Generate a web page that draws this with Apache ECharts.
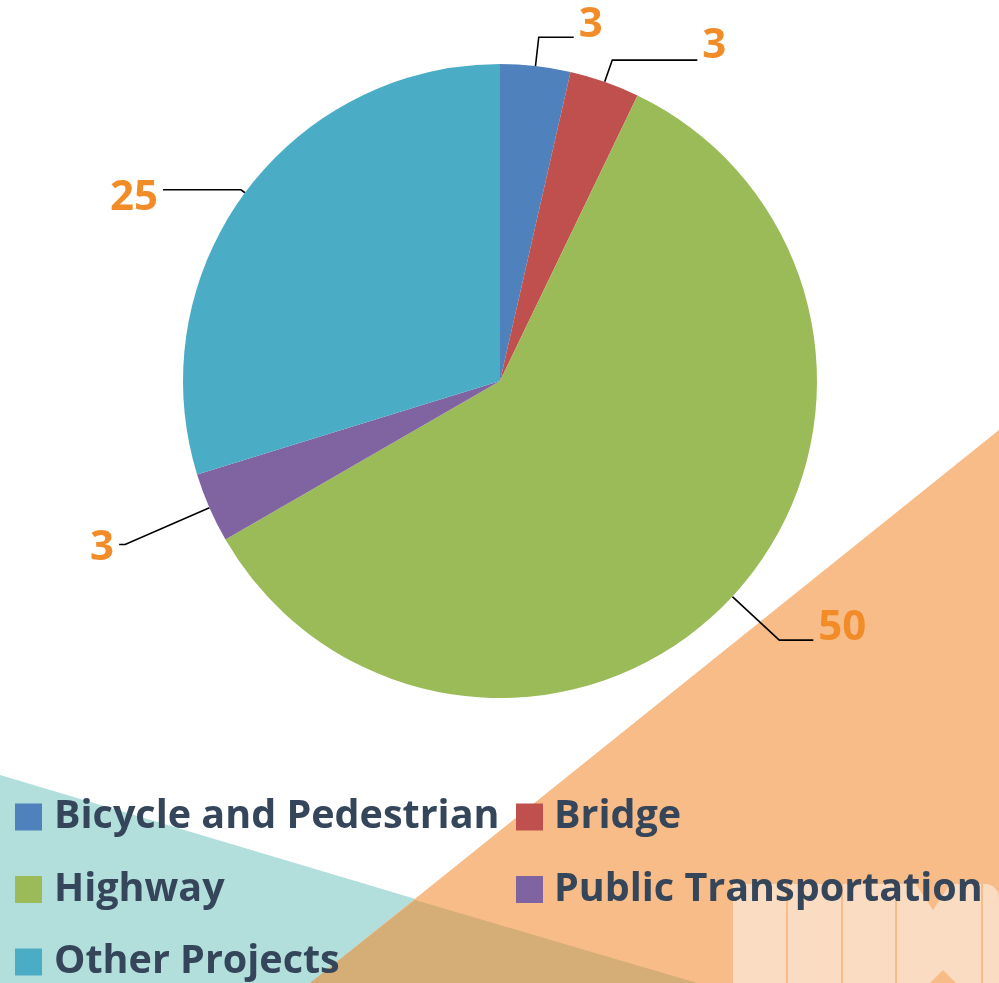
<!DOCTYPE html>
<html>
<head>
<meta charset="utf-8">
<script src="https://cdn.jsdelivr.net/npm/echarts@6/dist/echarts.min.js"></script>
<style>
html,body{margin:0;padding:0;background:#fff;}
#chart{width:999px;height:983px;}
</style>
</head>
<body>
<div id="chart"></div>
<script>
// ---- data ----
const categories = ['Bicycle and Pedestrian', 'Bridge', 'Highway', 'Public Transportation', 'Other Projects'];
const values = [3, 3, 50, 3, 25];
const leftLegendNames = ['Bicycle and Pedestrian', 'Highway', 'Other Projects'];
const rightLegendNames = ['Bridge', 'Public Transportation'];

// ---- styles ----
const sliceColors = ['#4F81BD', '#C0504D', '#9BBB59', '#8064A2', '#4BACC6'];
// up: spacer below value (raises text); down: spacer above value (lowers text)
const labelTweaks = {
  'Bicycle and Pedestrian': { len: 29, len2: 35, dir: 'up', gap: 24 },
  'Bridge': { len: 23, len2: 85, dir: 'up', gap: 28 },
  'Highway': { len: 64, len2: 34, dir: 'up', gap: 24 },
  'Public Transportation': { len: 92, len2: 6, dir: 'down', gap: 6 },
  'Other Projects': { len: 5, len2: 78, dir: 'down', gap: 16 }
};

const FONT = '"Open Sans", "Noto Sans", sans-serif';
const chart = echarts.init(document.getElementById('chart'), null, { renderer: 'canvas' });

const pieData = categories.map((name, i) => {
  const t = labelTweaks[name];
  return {
    name: name,
    value: values[i],
    label: {
      formatter: t.dir === 'up' ? '{v|{c}}\n{s| }' : '{s| }\n{v|{c}}',
      rich: {
        v: { fontFamily: FONT, fontWeight: 'bold', fontSize: 42, lineHeight: 42, color: '#F28C28' },
        s: { fontSize: 4, lineHeight: t.gap }
      }
    },
    labelLine: { length: t.len, length2: t.len2 }
  };
});

const legendText = {
  fontFamily: FONT, fontWeight: 'bold', fontSize: 39.5, color: '#35455A',
  lineHeight: 40, padding: [0, 0, 0, 7]
};

const option = {
  animation: false,
  backgroundColor: '#ffffff',
  color: sliceColors,
  graphic: [
    { type: 'polygon', z: -10, silent: true,
      shape: { points: [[0, 775], [999, 1073], [0, 1073]] },
      style: { fill: '#B2DFDC' } },
    { type: 'polygon', z: -10, silent: true,
      shape: { points: [[999, 430], [999, 1000], [289, 1000]] },
      style: { fill: '#F7BC88' } },
    { type: 'polygon', z: -9, silent: true,
      shape: { points: [[310, 983], [415, 900], [697, 983]] },
      style: { fill: '#D5AD77' } },
    { type: 'rect', z: -8, silent: true,
      shape: { x: 733, y: 884, width: 266, height: 110, r: [0, 14, 0, 0] },
      style: { fill: '#FADCC2' } },
    { type: 'polygon', z: -7, silent: true,
      shape: { points: [[915, 883], [933, 910], [951, 883]] },
      style: { fill: '#F7BC88' } },
    { type: 'polygon', z: -7, silent: true,
      shape: { points: [[929, 984], [943, 970], [957, 984]] },
      style: { fill: '#F7BC88' } },
    { type: 'rect', z: -7, silent: true, shape: { x: 786, y: 884, width: 2, height: 100 }, style: { fill: '#F7BC88' } },
    { type: 'rect', z: -7, silent: true, shape: { x: 841, y: 884, width: 2, height: 100 }, style: { fill: '#F7BC88' } },
    { type: 'rect', z: -7, silent: true, shape: { x: 895, y: 884, width: 2, height: 100 }, style: { fill: '#F7BC88' } },
    { type: 'rect', z: -7, silent: true, shape: { x: 981, y: 884, width: 2, height: 100 }, style: { fill: '#F7BC88' } }
  ],
  legend: [
    {
      data: leftLegendNames, orient: 'vertical', left: 15, top: 797, padding: 0,
      icon: 'rect', itemWidth: 27, itemHeight: 27, itemGap: 32.5,
      selectedMode: false, textStyle: legendText
    },
    {
      data: rightLegendNames, orient: 'vertical', left: 516, top: 797, padding: 0,
      icon: 'rect', itemWidth: 27, itemHeight: 27, itemGap: 32.5,
      selectedMode: false, textStyle: Object.assign({}, legendText, { padding: [0, 0, 0, 6] })
    }
  ],
  series: [{
    type: 'pie',
    center: [500, 381],
    radius: 317,
    startAngle: 90,
    clockwise: true,
    avoidLabelOverlap: false,
    silent: true,
    itemStyle: { borderWidth: 0 },
    label: {
      show: true, position: 'outside',
      fontFamily: FONT, fontWeight: 'bold', fontSize: 42, color: '#F28C28',
      distanceToLabelLine: 5
    },
    labelLine: {
      show: true, smooth: false,
      lineStyle: { color: '#000000', width: 1.6 }
    },
    emphasis: { disabled: true },
    data: pieData
  }]
};
chart.setOption(option);
</script>
</body>
</html>
